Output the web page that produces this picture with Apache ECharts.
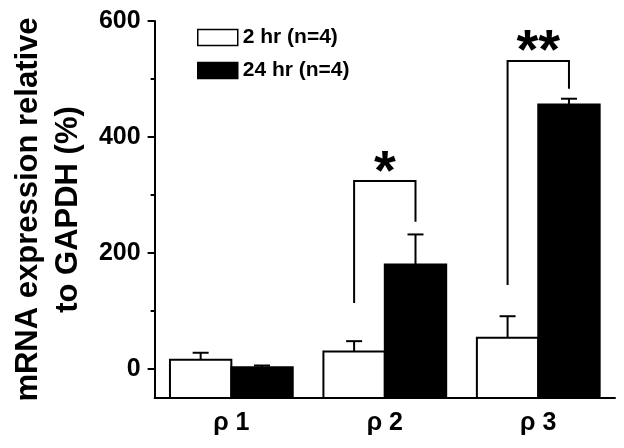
<!DOCTYPE html>
<html>
<head>
<meta charset="utf-8">
<script src="https://cdn.jsdelivr.net/npm/echarts@6/dist/echarts.min.js"></script>
<style>
  html, body { margin: 0; padding: 0; background: #fff; }
  #chart { width: 624px; height: 448px; }
</style>
</head>
<body>
<div id="chart"></div>
<script>
// data
const categories = ['ρ 1', 'ρ 2', 'ρ 3']
const hr2Values = [16, 30, 54]
const hr2Errors = [12, 18, 37]
const hr24Values = [3, 180, 456]
const hr24Errors = [3, 52, 10]

// significance brackets (value units), per category
const bracketTop = [null, 324, 531]
const bracketLeftEnd = [null, 114, 145]
const bracketRightEnd = [null, 254, 483]
const bracketLabels = ['', '*', '**']

const majorTicks = [0, 200, 400, 600]
const minorTicks = [100, 300, 500]
const Y_MIN = -50
const Y_MAX = 600

const FONT = '"Liberation Sans", Arial, sans-serif'
const chart = echarts.init(document.getElementById('chart'))

// 柱子从坐标轴底部(-50)开始画，所以用 custom 系列
function barRenderer(side, fill) {
  return function (params, api) {
    const idx = api.value(0)
    const val = api.value(1)
    const err = api.value(2)
    const band = api.size([1, 0])[0]
    const w = band * 0.4
    const top = api.coord([idx, val])
    const base = api.coord([idx, Y_MIN])
    const cap = api.coord([idx, val + err])
    const x0 = side < 0 ? top[0] - w : top[0]
    const cx = x0 + w / 2
    return {
      type: 'group',
      children: [
        {
          type: 'line',
          shape: { x1: cx, y1: top[1], x2: cx, y2: cap[1] },
          style: { stroke: '#000', lineWidth: 2 }
        },
        {
          type: 'line',
          shape: { x1: cx - 8, y1: cap[1], x2: cx + 8, y2: cap[1] },
          style: { stroke: '#000', lineWidth: 2 }
        },
        {
          type: 'rect',
          shape: { x: x0, y: top[1], width: w, height: base[1] - top[1] },
          style: { fill: fill, stroke: '#000', lineWidth: 2 }
        }
      ]
    }
  }
}

function bracketRenderer(params, api) {
  const idx = api.value(0)
  const band = api.size([1, 0])[0]
  const w = band * 0.4
  const topPt = api.coord([idx, api.value(1)])
  const leftPt = api.coord([idx, api.value(2)])
  const rightPt = api.coord([idx, api.value(3)])
  const xl = topPt[0] - w / 2
  const xr = topPt[0] + w / 2
  return {
    type: 'group',
    children: [
      {
        type: 'polyline',
        shape: { points: [[xl, leftPt[1]], [xl, topPt[1]], [xr, topPt[1]], [xr, rightPt[1]]] },
        style: { stroke: '#000', lineWidth: 2, fill: null }
      },
      {
        type: 'text',
        style: {
          text: bracketLabels[idx],
          x: topPt[0],
          y: topPt[1] + 20,
          align: 'center',
          verticalAlign: 'bottom',
          font: 'bold 56px ' + FONT,
          fill: '#000'
        }
      }
    ]
  }
}

const bracketData = []
bracketTop.forEach((t, i) => {
  if (t != null) bracketData.push([i, t, bracketLeftEnd[i], bracketRightEnd[i]])
})

chart.setOption({
  animation: false,
  backgroundColor: '#fff',
  grid: { left: 148, right: 9, top: 21, bottom: 50 },
  legend: {
    orient: 'vertical',
    left: 192,
    top: 22,
    itemWidth: 40,
    itemHeight: 16,
    itemGap: 12,
    textStyle: { fontFamily: FONT, fontWeight: 'bold', fontSize: 21, color: '#000' },
    data: [
      { name: '2 hr (n=4)', icon: 'rect', itemStyle: { color: '#fff', borderColor: '#000', borderWidth: 1.5 } },
      { name: '24 hr (n=4)', icon: 'rect', itemStyle: { color: '#000', borderColor: '#000', borderWidth: 1.5 } }
    ]
  },
  xAxis: {
    type: 'category',
    data: categories,
    boundaryGap: true,
    axisLine: { onZero: false, lineStyle: { color: '#000', width: 2 } },
    axisTick: { show: false },
    axisLabel: { color: '#000', fontFamily: FONT, fontWeight: 'bold', fontSize: 25, margin: 13 }
  },
  yAxis: [
    {
      type: 'value',
      min: Y_MIN,
      max: Y_MAX,
      name: 'mRNA expression relative\nto GAPDH (%)',
      nameLocation: 'middle',
      nameGap: 66,
      nameTextStyle: { color: '#000', fontFamily: FONT, fontWeight: 'bold', fontSize: 31, lineHeight: 40 },
      splitLine: { show: false },
      axisLine: { show: true, lineStyle: { color: '#000', width: 2 } },
      axisTick: { show: true, length: 7, lineStyle: { color: '#000', width: 2 }, customValues: majorTicks },
      axisLabel: { color: '#000', fontFamily: FONT, fontWeight: 'bold', fontSize: 25, margin: 14, customValues: majorTicks }
    },
    {
      type: 'value',
      position: 'left',
      min: Y_MIN,
      max: Y_MAX,
      splitLine: { show: false },
      axisLine: { show: false },
      axisTick: { show: true, length: 4, lineStyle: { color: '#000', width: 2 }, customValues: minorTicks },
      axisLabel: { show: false }
    }
  ],
  series: [
    {
      name: '2 hr (n=4)',
      type: 'custom',
      renderItem: barRenderer(-1, '#fff'),
      itemStyle: { color: '#fff', borderColor: '#000' },
      data: categories.map((c, i) => [i, hr2Values[i], hr2Errors[i]]),
      z: 2
    },
    {
      name: '24 hr (n=4)',
      type: 'custom',
      renderItem: barRenderer(1, '#000'),
      itemStyle: { color: '#000' },
      data: categories.map((c, i) => [i, hr24Values[i], hr24Errors[i]]),
      z: 2
    },
    {
      name: 'brackets',
      type: 'custom',
      renderItem: bracketRenderer,
      data: bracketData,
      z: 3
    }
  ]
})
</script>
</body>
</html>
